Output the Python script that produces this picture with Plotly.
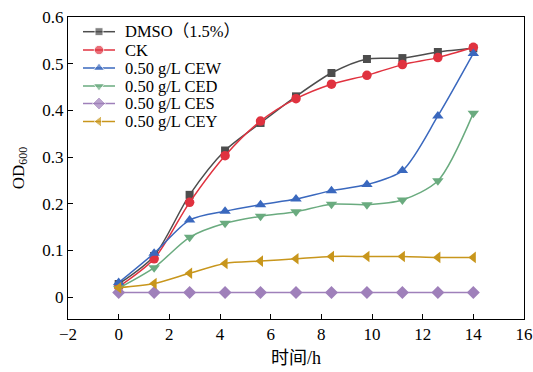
import plotly.graph_objects as go

time_h = [0, 1.4, 2.8, 4.2, 5.6, 7, 8.4, 9.8, 11.2, 12.6, 14]
dmso = [0.028, 0.088, 0.219, 0.314, 0.373, 0.430, 0.480, 0.510, 0.512, 0.525, 0.533]
ck = [0.022, 0.082, 0.203, 0.303, 0.377, 0.425, 0.456, 0.475, 0.498, 0.513, 0.535]
cew = [0.031, 0.094, 0.165, 0.184, 0.198, 0.210, 0.228, 0.241, 0.271, 0.388, 0.522]
ced = [0.019, 0.063, 0.128, 0.158, 0.173, 0.183, 0.199, 0.198, 0.208, 0.249, 0.394]
ces = [0.010, 0.010, 0.010, 0.010, 0.010, 0.010, 0.010, 0.010, 0.010, 0.010, 0.010]
cey = [0.020, 0.029, 0.051, 0.072, 0.077, 0.082, 0.087, 0.087, 0.087, 0.085, 0.085]

names = ["DMSO（1.5%）", "CK", "0.50 g/L CEW", "0.50 g/L CED", "0.50 g/L CES", "0.50 g/L CEY"]
series = [dmso, ck, cew, ced, ces, cey]
colors = ["#4d4d4d", "#e0323f", "#3a68be", "#6aab7f", "#9f80ba", "#c8961c"]
symbols = ["square", "circle", "triangle-up", "triangle-down", "diamond", "triangle-left"]
sizes = [8, 9.5, 10, 10, 10, 10]

W, H = 533, 372
ML, MR, MT, MB = 68, 9, 17, 53

fig = go.Figure()
for n, s, c, m, sz in zip(names, series, colors, symbols, sizes):
    fig.add_trace(go.Scatter(
        x=time_h, y=s, name=n, mode="lines+markers", showlegend=False,
        line=dict(color=c, width=1.5, shape="spline", smoothing=0.8),
        marker=dict(symbol=m, size=sz, color=c),
    ))

# custom legend drawn in a pixel-space overlay axis
leg_rows = [31.7, 50, 68, 86, 103.5, 121.5]
for n, c, m, sz, ry in zip(names, colors, symbols, sizes, leg_rows):
    fig.add_trace(go.Scatter(
        x=[83, 99, 115], y=[ry, ry, ry], xaxis="x2", yaxis="y2",
        mode="lines+markers", showlegend=False, hoverinfo="skip",
        line=dict(color=c, width=1.5),
        marker=dict(symbol=m, size=[0, sz, 0], color=c),
    ))
    fig.add_annotation(x=123, y=ry, xref="x2", yref="y2", text=n,
                       showarrow=False, xanchor="left", yanchor="middle",
                       font=dict(size=16.5, color="black"))

font_family = "Liberation Serif, Times New Roman, Noto Sans CJK SC, serif"
fig.update_layout(
    width=W, height=H,
    margin=dict(l=ML, r=MR, t=MT, b=MB, autoexpand=False),
    plot_bgcolor="white", paper_bgcolor="white",
    font=dict(family=font_family, size=17, color="black"),
    showlegend=False,
    xaxis2=dict(overlaying="x", range=[ML, W - MR], visible=False, fixedrange=True),
    yaxis2=dict(overlaying="y", range=[H - MB, MT], visible=False, fixedrange=True),
    xaxis=dict(range=[-2, 16], tickvals=list(range(-2, 17, 2)),
               ticks="inside", ticklen=5, tickcolor="black", automargin=False,
               showline=True, linecolor="black", linewidth=1, mirror=True,
               showgrid=False, zeroline=False,
               title=dict(text="时间/h", standoff=7, font=dict(size=18))),
    yaxis=dict(range=[-0.047, 0.6], tickvals=[0, 0.1, 0.2, 0.3, 0.4, 0.5, 0.6],
               ticks="inside", ticklen=5, tickcolor="black", automargin=False,
               showline=True, linecolor="black", linewidth=1, mirror=True,
               showgrid=False, zeroline=False,
               title=dict(text="OD<sub>600</sub>", standoff=13, font=dict(size=17))),
)

fig.write_html("out.html", config={"displayModeBar": False},
               post_script="document.body.style.margin='0';document.body.style.padding='0';")
